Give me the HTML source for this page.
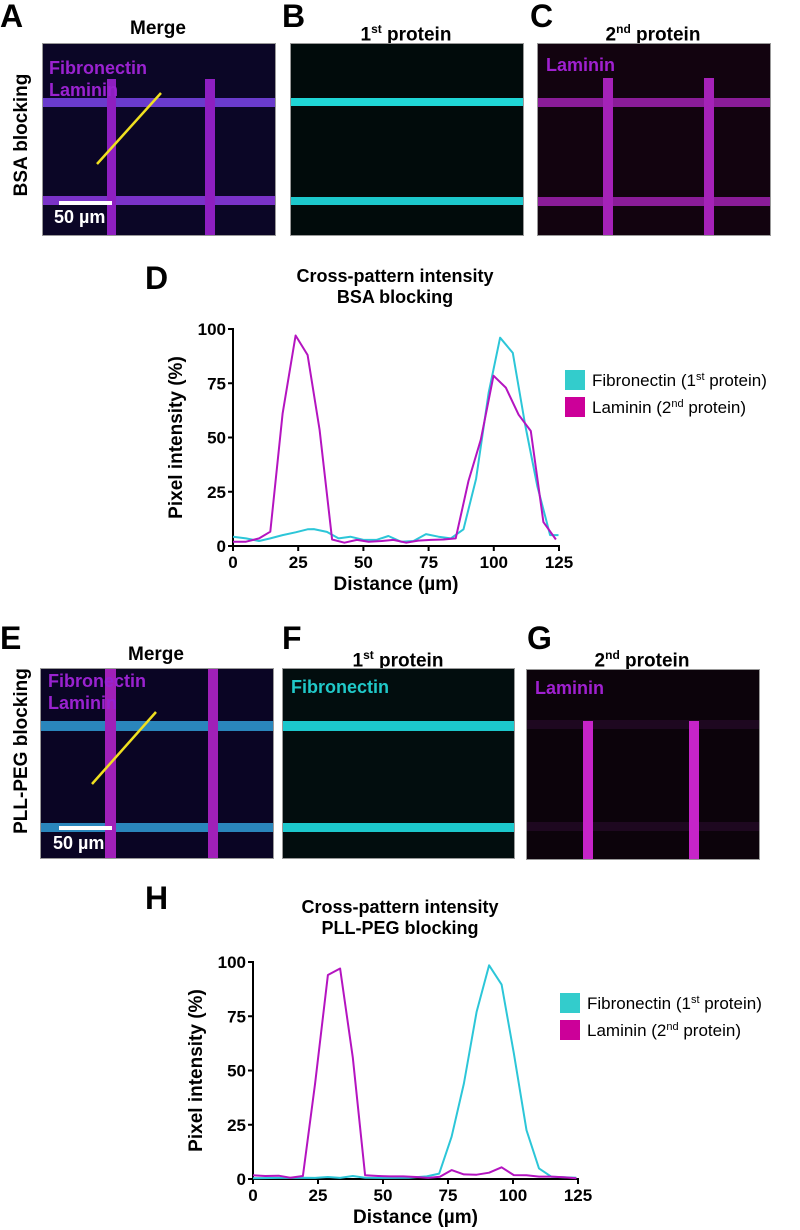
<!DOCTYPE html>
<html><head><meta charset="utf-8">
<style>
body{margin:0;width:800px;height:1230px;background:#fff;position:relative;overflow:hidden;font-family:"Liberation Sans",sans-serif;color:#000}
.abs{position:absolute}
.let{position:absolute;font-weight:bold;font-size:32px;line-height:32px}
.ttl{position:absolute;font-weight:bold;font-size:19px;line-height:22px;text-align:center;width:240px}
.img{position:absolute;overflow:hidden;border:1px solid #999;box-sizing:border-box}
.bar{position:absolute;z-index:1}
.lab{position:absolute;font-weight:bold;font-size:18px;line-height:22px;z-index:5}
.rot{position:absolute;font-weight:bold;font-size:19px;transform:rotate(-90deg);transform-origin:center;white-space:nowrap;text-align:center;width:240px}
sup{font-size:12px}
svg.abs{z-index:3}
</style></head><body>
<div class="let" style="left:0;top:0">A</div>
<div class="let" style="left:282px;top:0">B</div>
<div class="let" style="left:530px;top:0">C</div>
<div class="ttl" style="left:38px;top:18px">Merge</div>
<div class="ttl" style="left:286px;top:18px">1<sup>st</sup> protein</div>
<div class="ttl" style="left:533px;top:18px">2<sup>nd</sup> protein</div>
<div class="rot" style="left:-98px;top:124px">BSA blocking</div>

<!-- A -->
<div class="img" style="left:42px;top:43px;width:234px;height:193px;background:#0b0626">
 <div class="bar" style="left:0;top:54px;width:234px;height:9px;background:#6a3bcc"></div>
 <div class="bar" style="left:0;top:152px;width:234px;height:9px;background:#7a32c8"></div>
 <div class="bar" style="left:64px;top:35px;width:9px;height:160px;background:#8e1fc0"></div>
 <div class="bar" style="left:162px;top:35px;width:10px;height:160px;background:#8e1fc0"></div>
 <svg class="abs" style="left:0;top:0" width="234" height="193"><line x1="54" y1="120" x2="118" y2="49" stroke="#f0e020" stroke-width="2.5"/></svg>
 <div class="lab" style="left:6px;top:13px;color:#9a22d0">Fibronectin<br>Laminin</div>
 <div class="bar" style="left:16px;top:157px;width:53px;height:4px;background:#fff;z-index:4"></div>
 <div class="lab" style="left:11px;top:162px;color:#fff">50 µm</div>
</div>
<!-- B -->
<div class="img" style="left:290px;top:43px;width:234px;height:193px;background:#010b0b">
 <div class="bar" style="left:0;top:54px;width:234px;height:8px;background:#1fd6d6"></div>
 <div class="bar" style="left:0;top:153px;width:234px;height:8px;background:#1cc8cc"></div>
</div>
<!-- C -->
<div class="img" style="left:537px;top:43px;width:234px;height:193px;background:#12030f">
 <div class="bar" style="left:0;top:54px;width:234px;height:9px;background:#8a1c98"></div>
 <div class="bar" style="left:0;top:153px;width:234px;height:9px;background:#8a1c98"></div>
 <div class="bar" style="left:65px;top:34px;width:10px;height:160px;background:#a522b8"></div>
 <div class="bar" style="left:166px;top:34px;width:10px;height:160px;background:#a522b8"></div>
 <div class="lab" style="left:8px;top:10px;color:#a020d0">Laminin</div>
</div>

<div class="let" style="left:145px;top:262px">D</div>
<div class="let" style="left:0;top:622px">E</div>
<div class="let" style="left:282px;top:622px">F</div>
<div class="let" style="left:527px;top:622px">G</div>
<div class="ttl" style="left:36px;top:644px">Merge</div>
<div class="ttl" style="left:278px;top:644px">1<sup>st</sup> protein</div>
<div class="ttl" style="left:522px;top:644px">2<sup>nd</sup> protein</div>
<div class="rot" style="left:-98px;top:740px">PLL-PEG blocking</div>

<!-- E -->
<div class="img" style="left:40px;top:668px;width:234px;height:191px;background:#0a0524">
 <div class="bar" style="left:0;top:52px;width:234px;height:10px;background:#2a86bc"></div>
 <div class="bar" style="left:0;top:154px;width:234px;height:9px;background:#2a86bc"></div>
 <div class="bar" style="left:64px;top:0;width:11px;height:191px;background:#a020b8"></div>
 <div class="bar" style="left:167px;top:0;width:10px;height:191px;background:#a020b8"></div>
 <svg class="abs" style="left:0;top:0" width="234" height="191"><line x1="51" y1="115" x2="115" y2="43" stroke="#f0e020" stroke-width="2.5"/></svg>
 <div class="lab" style="left:7px;top:1px;color:#9a22d0">Fibronectin<br>Laminin</div>
 <div class="bar" style="left:18px;top:157px;width:53px;height:4px;background:#fff;z-index:4"></div>
 <div class="lab" style="left:12px;top:163px;color:#fff">50 µm</div>
</div>
<!-- F -->
<div class="img" style="left:282px;top:668px;width:233px;height:191px;background:#020d0e">
 <div class="bar" style="left:0;top:52px;width:233px;height:10px;background:#1cc8cc"></div>
 <div class="bar" style="left:0;top:154px;width:233px;height:9px;background:#1cc8cc"></div>
 <div class="lab" style="left:8px;top:7px;color:#20c8c8">Fibronectin</div>
</div>
<!-- G -->
<div class="img" style="left:526px;top:669px;width:234px;height:191px;background:#0c030b">
 <div class="bar" style="left:0;top:50px;width:234px;height:9px;background:#1e0820"></div>
 <div class="bar" style="left:0;top:152px;width:234px;height:9px;background:#1e0820"></div>
 <div class="bar" style="left:56px;top:51px;width:10px;height:140px;background:#c624c8"></div>
 <div class="bar" style="left:162px;top:51px;width:10px;height:140px;background:#c624c8"></div>
 <div class="lab" style="left:8px;top:7px;color:#a020d0">Laminin</div>
</div>

<div class="let" style="left:145px;top:882px">H</div>

<svg id="chartD" class="abs" style="left:0;top:0" width="800" height="1230"></svg>

<script>
const dMagX=[0,5,10,14.3,19,24,28.6,33.2,38,42.7,47.5,52,57,61.5,66.4,71,75.9,80.7,85.4,90.3,95,99.9,104.6,109.5,114.2,119,123.8];
const dMagY=[2,2,3.5,6.6,61,97,88,53.5,3,1.5,2.8,2,2.3,2.8,1.5,2.5,2.8,3,3.5,30,49,78.5,73,60.5,53,11,3];
const dCyX=[0,5,10,14.3,19,24,28.6,31,36,40.5,45,50,55,59.6,64.4,69.2,74,78.8,83.5,88.4,93.2,98,102.4,107.3,112,116.7,121.6,124.8];
const dCyY=[4.3,3.5,2.3,3.5,5,6.3,7.7,7.8,6.5,3.5,4.3,2.8,2.8,4.6,2,2.3,5.5,4.3,3.5,7.7,31,70.5,96,89,56,27.4,5,5];
const hMagX=[0,4.7,9.9,14.3,19.2,23.9,28.8,33.5,38.4,43.1,48.2,52.7,57.8,62.7,67.4,71.9,76.4,81.1,86,90.8,95.6,100.3,105.2,110,114.8,119.5,124.4];
const hMagY=[1.7,1.4,1.5,0.6,1.4,44,94,97,56,1.7,1.4,1.2,1.2,0.9,0.5,1,4.1,2.1,2,2.9,5.4,1.8,1.7,1.1,1.1,0.8,0.3];
const hCyX=[0,9.9,19.2,23.9,28.8,33.5,38.4,43.1,52,60,66.8,71.6,76.4,81.1,86,90.8,95.6,100.3,105.2,110,114.8,124.4];
const hCyY=[0.3,0.5,0.6,0.5,0.9,0.5,1.4,0.6,0.5,0.6,1.2,2.5,19.5,44,77,98.5,89.6,58,22.5,4.9,1,0.6];
const xTicks=[0,25,50,75,100,125];
const yTicks=[0,25,50,75,100];
const legendLabels=["Fibronectin (1","Laminin (2"];
const legendSups=["st","nd"];

const NS="http://www.w3.org/2000/svg";
const svg=document.getElementById('chartD');
function el(t,a,p){const e=document.createElementNS(NS,t);for(const k in a)e.setAttribute(k,a[k]);(p||svg).appendChild(e);return e;}
function chart(cfg){
  const sx=v=>cfg.x0+(v/125)*(cfg.x1-cfg.x0);
  const sy=v=>cfg.y0-(v/100)*(cfg.y0-cfg.y1);
  const g=el('g',{});
  
  
  const ax=el('path',{d:`M${cfg.x0} ${cfg.y1-1}V${cfg.y0}H${cfg.x1+1}`,fill:'none',stroke:'#000','stroke-width':2},g);
  
  
  xTicks.forEach(t=>{
    el('line',{x1:sx(t),x2:sx(t),y1:cfg.y0,y2:cfg.y0+5,stroke:'#000','stroke-width':2},g);
    const tx=el('text',{x:sx(t),y:cfg.y0+22,'text-anchor':'middle','font-size':17,'font-weight':'bold','font-family':'Liberation Sans, sans-serif'},g);
    tx.textContent=t;
    
    
  });
  yTicks.forEach(t=>{
    el('line',{x1:cfg.x0-5,x2:cfg.x0,y1:sy(t),y2:sy(t),stroke:'#000','stroke-width':2},g);
    const tx=el('text',{x:cfg.x0-7,y:sy(t)+6,'text-anchor':'end','font-size':17,'font-weight':'bold','font-family':'Liberation Sans, sans-serif'},g);
    tx.textContent=t;
    
    
  });
  const series=[[cfg.cx,cfg.cy,'#2cc6d8','fibronectin-line'],[cfg.mx,cfg.my,'#b414c0','laminin-line']];
  series.forEach(s=>{
    const d=s[0].map((x,i)=>(i?'L':'M')+sx(x).toFixed(1)+' '+sy(s[1][i]).toFixed(1)).join('');
    const p=el('path',{d:d,fill:'none',stroke:s[2],'stroke-width':2,'stroke-linejoin':'round'},g);
    
    
  });
  const fs='font-family:Liberation Sans,sans-serif;font-weight:bold;';
  const t1=el('text',{x:cfg.tx,y:cfg.ty,'text-anchor':'middle','font-size':18,style:fs},g);
  t1.textContent='Cross-pattern intensity';
  
  
  const t2=el('text',{x:cfg.tx,y:cfg.ty+21,'text-anchor':'middle','font-size':18,style:fs},g);
  t2.textContent=cfg.sub;
  
  
  const xt=el('text',{x:(cfg.x0+cfg.x1)/2,y:cfg.y0+44,'text-anchor':'middle','font-size':19,style:fs},g);
  xt.textContent='Distance (µm)';
  
  
  const yc=(cfg.y0+cfg.y1)/2, yx=cfg.x0-51;
  const yt=el('text',{x:yx,y:yc,'text-anchor':'middle','font-size':19,transform:`rotate(-90 ${yx} ${yc})`,style:fs},g);
  yt.textContent='Pixel intensity (%)';
  
  
  ['#33cccc','#cc0099'].forEach((c,i)=>{
    const r=el('rect',{x:cfg.lx,y:cfg.ly+i*27,width:20,height:20,fill:c},g);
    
    
    const t=el('text',{x:cfg.lx+27,y:cfg.ly+i*27+16,'font-size':17,style:'font-family:Liberation Sans,sans-serif'},g);
    
    
    t.appendChild(document.createTextNode(legendLabels[i]));
    const ts=el('tspan',{dy:-6,'font-size':11},t);ts.textContent=legendSups[i];
    const tp=el('tspan',{dy:6},t);tp.textContent=' protein)';
  });
}
chart({name:'chart-bsa-blocking',x0:233,x1:559,y0:546,y1:329,mx:dMagX,my:dMagY,cx:dCyX,cy:dCyY,tx:395,ty:282,sub:'BSA blocking',lx:565,ly:370});
chart({name:'chart-pllpeg-blocking',x0:253,x1:578,y0:1179,y1:962,mx:hMagX,my:hMagY,cx:hCyX,cy:hCyY,tx:400,ty:913,sub:'PLL-PEG blocking',lx:560,ly:993});
</script>
</body></html>
